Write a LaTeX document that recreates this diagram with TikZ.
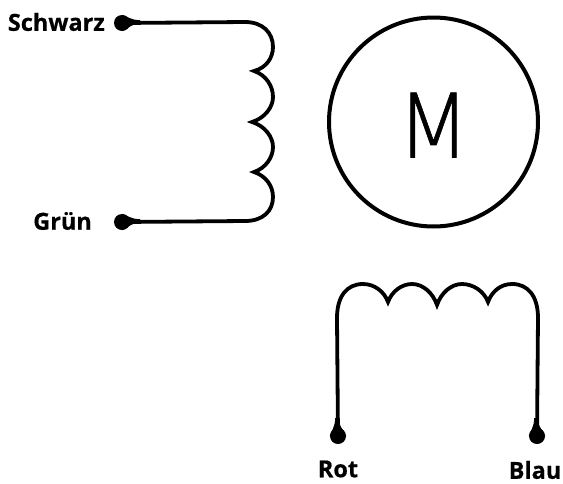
\documentclass[tikz,border=0pt]{standalone}
\usepackage{fontspec}
\setmainfont[BoldFeatures={FakeBold=0.5}]{Open Sans}
\newfontfamily\motorfont[FakeBold=0.7]{DejaVu Sans ExtraLight}
\usetikzlibrary{positioning}

\begin{document}
\begin{tikzpicture}[x=1pt, y=-1pt]
	\tikzset{
	wire/.style={line width=3.8pt, line join=miter, miter limit=12}, % winding wires with sharp cusps
	terminal/.style={circle, fill=black, inner sep=0pt, minimum size=16pt}, % end points of the windings
	taper/.style={fill=black}, % short drop between terminal and wire
	wirelabel/.style={inner sep=0pt, font=\fontsize{23.5}{26}\selectfont\bfseries}
	}
	\useasboundingbox (0,0) rectangle (563,483);

	% Motor
	\node[circle, draw, line width=4pt, minimum size=209pt, inner sep=0pt] (motor) at (433.5,122) {};
	\node[font=\fontsize{89}{89}\motorfont, inner sep=0pt, xscale=0.95] (mlabel) at (433.5,125) {M};

	% Terminals
	\node[terminal] (schwarz) at (122,23) {};
	\node[terminal] (gruen) at (122,222) {};
	\node[terminal] (rot) at (338,436) {};
	\node[terminal] (blau) at (537,436) {};

	\node[wirelabel, anchor=east] (schwarzlabel) at (105,22) {Schwarz};
	\node[wirelabel, anchor=east] (gruenlabel) at (92,221) {Grün};
	\node[wirelabel] (rotlabel) at (338,469) {Rot};
	\node[wirelabel] (blaulabel) at (535,470) {Blau};

	% Cusps of the windings
	\coordinate (a1) at (254,71);
	\coordinate (a2) at (252,122);
	\coordinate (a3) at (254,172);
	\coordinate (b1) at (388,302);
	\coordinate (b2) at (437,305);
	\coordinate (b3) at (488,302);

	% Side winding
	\draw[wire] (schwarz.center) -- (245,22)
		.. controls (263,22) and (273,33) .. (273,47)
		.. controls (273,58) and (266,68) .. (a1)
		.. controls (266,75) and (273,86) .. (273,97)
		.. controls (273,107) and (265,118) .. (a2)
		.. controls (265,126) and (273,137) .. (273,147)
		.. controls (273,157) and (266,168) .. (a3)
		.. controls (266,176) and (273,186) .. (273,197)
		.. controls (273,211) and (263,221) .. (245,221)
		-- (gruen.center);

	% Lower winding
	\draw[wire] (rot.center) -- (337,318)
		.. controls (337,296) and (347,284) .. (363,284)
		.. controls (374,284) and (384,291) .. (b1)
		.. controls (392,291) and (402,284) .. (412,284)
		.. controls (423,284) and (433,293) .. (b2)
		.. controls (441,293) and (451,284) .. (462,284)
		.. controls (473,284) and (484,291) .. (b3)
		.. controls (492,291) and (501,284) .. (512,284)
		.. controls (528,284) and (538,296) .. (538,318)
		-- (blau.center);

	% Drops at the terminals
	\fill[taper] (schwarz.north) .. controls (127,16) and (130,20) .. (140,20.2) -- (140,23.8) .. controls (130,24) and (127,30) .. (schwarz.south);
	\fill[taper] (gruen.north) .. controls (127,215) and (130,219) .. (140,219.2) -- (140,222.8) .. controls (130,223) and (127,229) .. (gruen.south);
	\fill[taper] (rot.west) .. controls (331,431) and (335,428) .. (335.2,418) -- (338.8,418) .. controls (339,428) and (345,431) .. (rot.east);
	\fill[taper] (blau.west) .. controls (530,431) and (534,428) .. (534.2,418) -- (537.8,418) .. controls (538,428) and (544,431) .. (blau.east);
\end{tikzpicture}
\end{document}
